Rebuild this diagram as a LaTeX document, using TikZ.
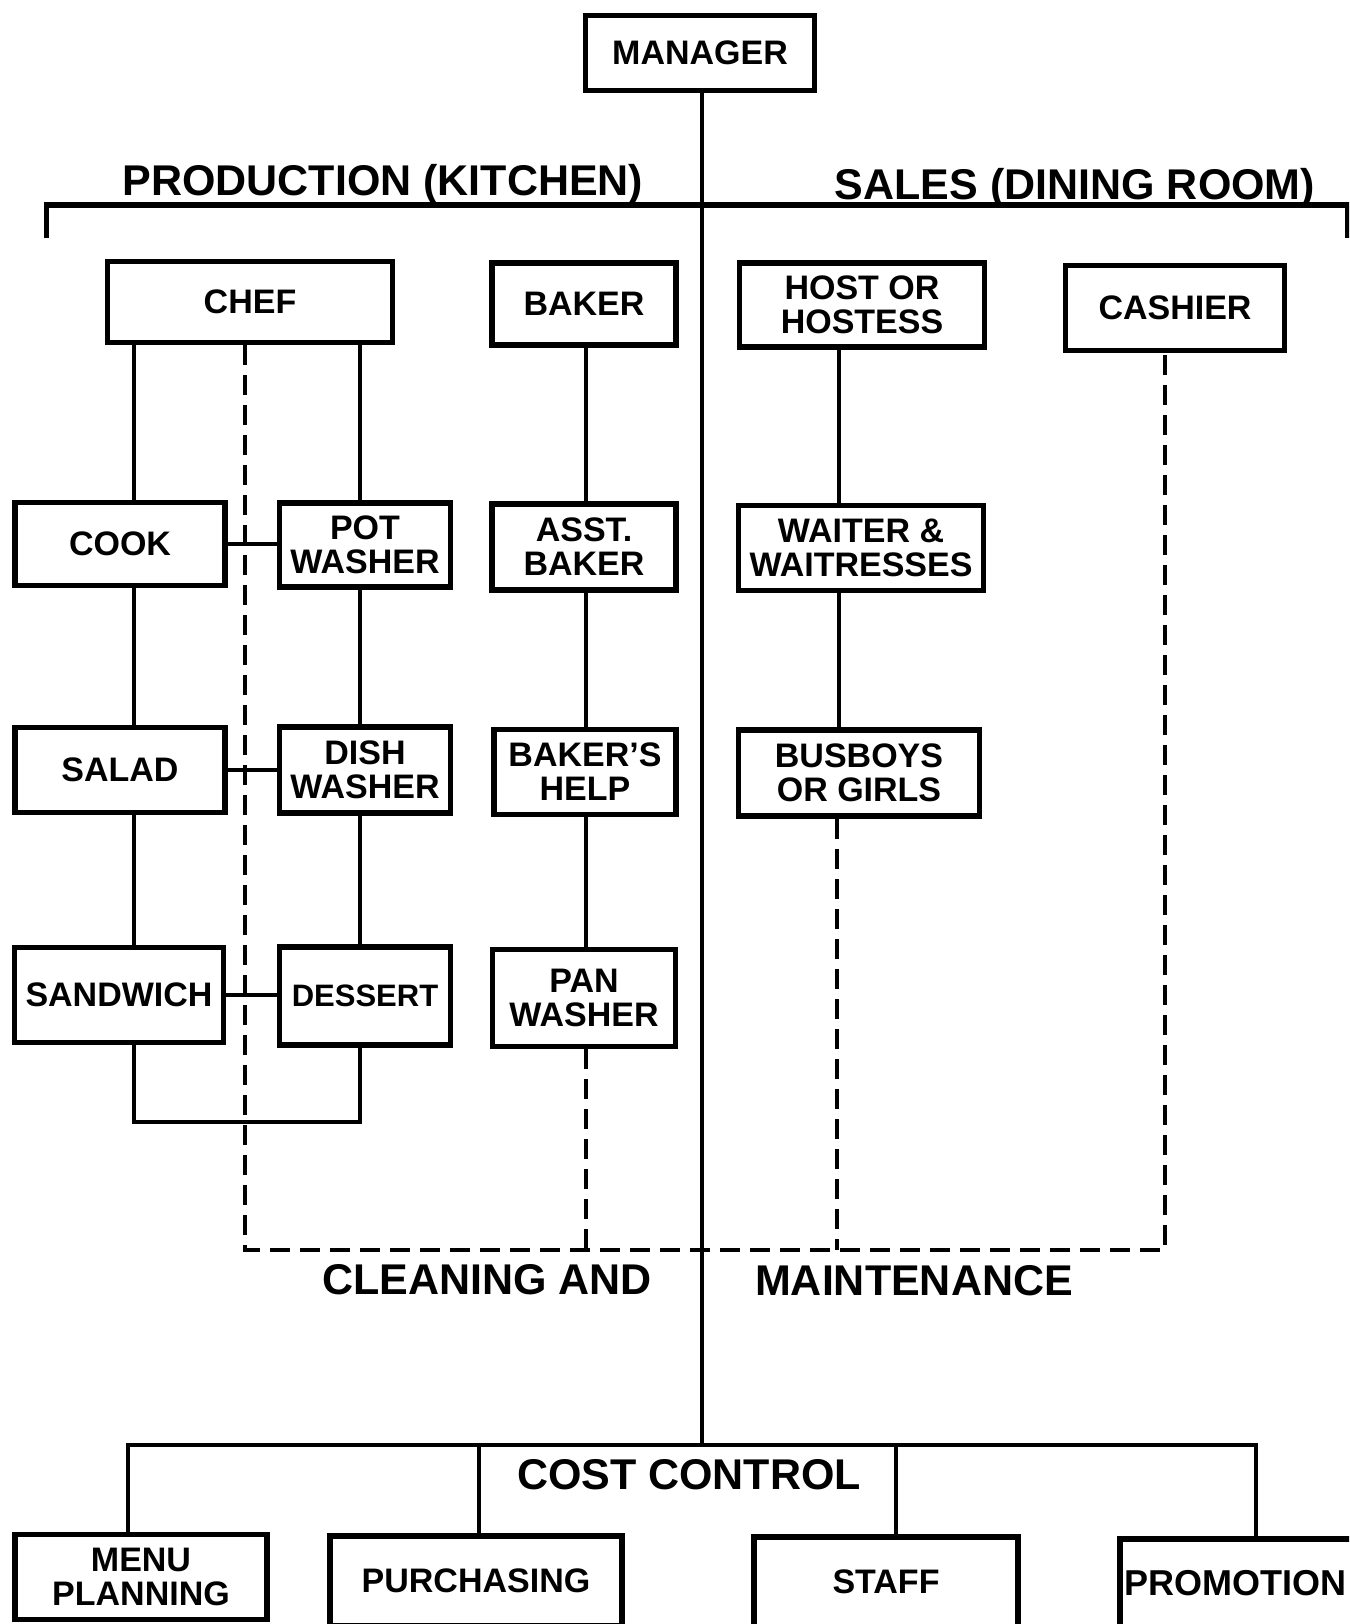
\documentclass[tikz,border=0pt]{standalone}
\usepackage{fontspec}
\setmainfont{Liberation Sans}
\usetikzlibrary{calc}
\tikzset{
    staffBox/.style={
        ,   draw
        ,   rectangle
        ,   line width=5.5pt
        ,   inner sep=0pt
        ,   align=center
        ,   font={\fontsize{34pt}{34pt}\selectfont\bfseries}
    },
    linkLine/.style={
        ,   line width=4pt
    },
    dashLine/.style={
        ,   line width=4.5pt
        ,   dash pattern=on 20pt off 10pt
    },
    headText/.style={
        ,   inner sep=0pt
        ,   anchor=base
        ,   font={\fontsize{43pt}{44pt}\selectfont\bfseries}
    },
}

\begin{document}
\begin{tikzpicture}[x=1pt, y=-1pt]
\useasboundingbox (0,0) rectangle (1349,1624);
\clip (0,0) rectangle (1349,1624);

\node[staffBox, minimum width=229, minimum height=75] (manager) at (700,53) {MANAGER};

% kitchen side
\node[staffBox, minimum width=285, minimum height=81] (chef) at (250,302) {CHEF};
\node[staffBox, minimum width=184, minimum height=82] (baker) at (584,304) {BAKER};
\node[staffBox, minimum width=210, minimum height=83] (cook) at (120,544) {COOK};
\node[staffBox, minimum width=171, minimum height=84] (pot) at (365,545) {POT\\WASHER};
\node[staffBox, minimum width=184, minimum height=86] (asst) at (584,547) {ASST.\\BAKER};
\node[staffBox, minimum width=210, minimum height=85] (salad) at (120,770) {SALAD};
\node[staffBox, minimum width=171, minimum height=86] (dish) at (365,770) {DISH\\WASHER};
\node[staffBox, minimum width=182, minimum height=85] (helper) at (585,772) {BAKER'S\\HELP};
\node[staffBox, minimum width=209, minimum height=95] (sandwich) at (119,995) {SANDWICH};
\node[staffBox, minimum width=171, minimum height=98, font={\fontsize{31pt}{34pt}\selectfont\bfseries}] (dessert) at (365,996) {DESSERT};
\node[staffBox, minimum width=183, minimum height=97] (pan) at (584,998) {PAN\\WASHER};

% dining room side
\node[staffBox, minimum width=245, minimum height=84] (host) at (862,305) {HOST OR\\HOSTESS};
\node[staffBox, minimum width=219, minimum height=85] (cashier) at (1175,308) {CASHIER};
\node[staffBox, minimum width=245, minimum height=85] (waiter) at (861,548) {WAITER \&\\WAITRESSES};
\node[staffBox, minimum width=241, minimum height=86] (busboy) at (859,773) {BUSBOYS\\OR GIRLS};

% cost control row
\node[staffBox, minimum width=252, minimum height=85] (menu) at (141,1577) {MENU\\PLANNING};
\node[staffBox, minimum width=292, minimum height=90] (purchase) at (476,1581) {PURCHASING};
\node[staffBox, minimum width=264, minimum height=90] (staff) at (886,1582) {STAFF};
\node[staffBox, minimum width=258, minimum height=88, text width=250, align=left, font={\fontsize{36pt}{36pt}\selectfont\bfseries}] (promo) at (1249,1583) {PROMOTION};

\node[headText] (prodHead) at (383,196) {PRODUCTION (KITCHEN)};
\node[headText] (salesHead) at (1075,200) {SALES (DINING ROOM)};
\node[headText] (cleanHead) at (487,1294) {CLEANING AND};
\node[headText] (mainHead) at (914,1295) {MAINTENANCE};
\node[headText] (costHead) at (689,1489) {COST CONTROL};

\coordinate (topBar) at (702,205);
\coordinate (prodL) at (46,238);
\coordinate (salesR) at (1347,238);
\coordinate (costBar) at (702,1445);
\coordinate (colL) at (134,0);
\coordinate (colR) at (360,0);
\coordinate (colD) at (245,0);
\coordinate (colB) at (586,0);
\coordinate (colH) at (839,0);
\coordinate (colC) at (1165,0);
\coordinate (cleanBar) at (0,1250);
\coordinate (sinkBar) at (0,1122);

\draw[linkLine, line width=3.5pt] (manager.south -| topBar) -- (costBar);
\draw[linkLine, line width=5pt] (prodL) |- (topBar) -| (salesR);

\foreach \a/\b in {chef/cook,cook/salad,salad/sandwich}
  \draw[linkLine] (\a.south -| colL) -- (\b.north -| colL);
\foreach \a/\b in {chef/pot,pot/dish,dish/dessert}
  \draw[linkLine] (\a.south -| colR) -- (\b.north -| colR);
\draw[linkLine] (sandwich.south -| colL) |- (sinkBar -| colR) -- (dessert.south -| colR);
\foreach \a/\b in {cook/pot,salad/dish,sandwich/dessert}
  \draw[linkLine] (\a.east) -- (\a.east -| \b.west);

\foreach \a/\b in {baker/asst,asst/helper,helper/pan}
  \draw[linkLine] (\a.south -| colB) -- (\b.north -| colB);
\foreach \a/\b in {host/waiter,waiter/busboy}
  \draw[linkLine] (\a.south -| colH) -- (\b.north -| colH);

% cleaning and maintenance
\draw[dashLine] (chef.south -| colD) |- (cleanBar -| colC) -- (cashier.south -| colC);
\draw[dashLine] (pan.south -| colB) -- (cleanBar -| colB);
\draw[dashLine] ($(busboy.south -| colH)+(-2,0)$) -- ($(cleanBar -| colH)+(-2,0)$);

% cost control
\draw[linkLine] (menu.north -| 128,0) |- (costBar) -| (promo.north -| 1256,0);
\draw[linkLine] (purchase.north -| 479,0) -- (costBar -| 479,0);
\draw[linkLine] (staff.north -| 896,0) -- (costBar -| 896,0);
\end{tikzpicture}
\end{document}
